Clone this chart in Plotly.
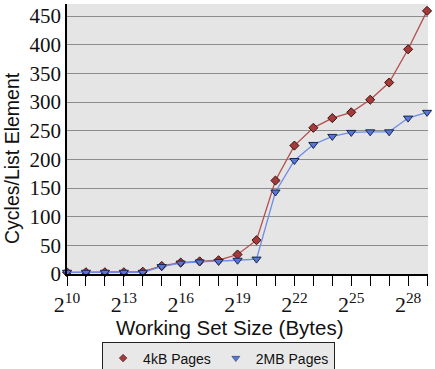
import plotly.graph_objects as go

exponents = list(range(10, 30))
pages_4kb = [3, 3, 3, 3, 4, 14, 20, 22, 24, 34, 59, 163, 224, 255, 272, 282, 304, 334, 392, 459]
pages_2mb = [3, 3, 3, 3, 3, 13, 19, 21, 22, 24, 26, 143, 198, 226, 240, 247, 248, 248, 272, 282]
series_names = ["4kB Pages", "2MB Pages"]
y_ticks = [0, 50, 100, 150, 200, 250, 300, 350, 400, 450]
x_label_exps = [10, 13, 16, 19, 22, 25, 28]
x_tick_labels = ["2<sup>%d</sup>" % e for e in x_label_exps]
x_title = "Working Set Size (Bytes)"
y_title = "Cycles/List Element"

red_line = dict(color="#b34f4f", width=1.3)
red_marker = dict(symbol="diamond", size=7, color="#a43a3a", line=dict(color="#3a1010", width=1))
blue_line = dict(color="#6d8ee6", width=1.3)
blue_marker = dict(symbol="triangle-down", size=8, color="#5577d8", line=dict(color="#1a2550", width=1))

fig = go.Figure()
fig.add_trace(go.Scatter(x=exponents, y=pages_4kb, name=series_names[0], mode="lines+markers",
                         line=red_line, marker=red_marker, showlegend=False, cliponaxis=False))
fig.add_trace(go.Scatter(x=exponents, y=pages_2mb, name=series_names[1], mode="lines+markers",
                         line=blue_line, marker=blue_marker, showlegend=False, cliponaxis=False))
# legend-only entries (marker only, as in the reference)
fig.add_trace(go.Scatter(x=[None], y=[None], name=series_names[0], mode="markers",
                         marker=dict(symbol="diamond", size=6, color="#a43a3a", line=dict(color="#3a1010", width=0.5))))
fig.add_trace(go.Scatter(x=[None], y=[None], name=series_names[1], mode="markers",
                         marker=dict(symbol="triangle-down", size=7, color="#5577d8", line=dict(color="#1a2550", width=0.5))))

serif = "Liberation Serif"
sans = "Liberation Sans"

fig.update_layout(
    width=435, height=369,
    margin=dict(l=67, r=7, t=4, b=95, autoexpand=False),
    paper_bgcolor="white",
    plot_bgcolor="#e5e5e5",
    showlegend=True,
    legend=dict(
        orientation="h", x=0.42, xanchor="center", y=-0.25, yanchor="top",
        bgcolor="#e8e8e8", bordercolor="#222", borderwidth=1,
        font=dict(family=sans, size=14, color="#111"),
        itemwidth=30, tracegroupgap=0,
    ),
    xaxis=dict(
        range=[10, 29.05], tickmode="array", tickvals=x_label_exps, ticktext=x_tick_labels,
        ticks="outside", ticklen=10, tickcolor="black", tickwidth=1,
        minor=dict(ticks="outside", ticklen=10, tickcolor="black", tickwidth=1, dtick=1, tick0=10, showgrid=False),
        showline=True, linecolor="black", linewidth=1.5, showgrid=False, zeroline=False,
        automargin=False,
        tickfont=dict(family=serif, size=22, color="#111"),
    ),
    yaxis=dict(
        range=[0, 471], tickmode="array", tickvals=y_ticks,
        ticks="", showline=True, linecolor="black", linewidth=1.5,
        showgrid=True, gridcolor="#8c8c8c", gridwidth=1, zeroline=False,
        automargin=False,
        tickfont=dict(family=serif, size=21, color="#111"),
    ),
    annotations=[
        dict(text=x_title, xref="paper", yref="paper", x=0.449, y=-0.198, xanchor="center", yanchor="middle",
             showarrow=False, font=dict(family=sans, size=20.5, color="#111")),
        dict(text=y_title, xref="paper", yref="paper", x=-0.152, y=0.43, xanchor="center", yanchor="middle",
             textangle=-90, showarrow=False, font=dict(family=sans, size=19.5, color="#111")),
    ],
)

fig.write_html("out.html", config={"displayModeBar": False},
               post_script="document.body.style.margin='0px';document.body.style.overflow='hidden';")
